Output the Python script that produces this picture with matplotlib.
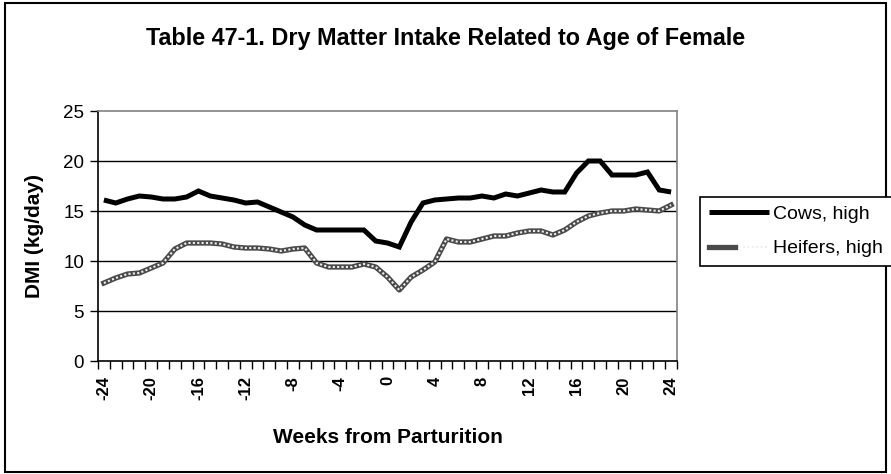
import matplotlib
matplotlib.use("Agg")
import matplotlib.pyplot as plt
from matplotlib.lines import Line2D
from matplotlib.legend_handler import HandlerTuple
from matplotlib.patches import Rectangle

plt.rcParams['font.family'] = ['Liberation Sans', 'DejaVu Sans']

weeks = list(range(-24, 25))
cows = [16.1, 15.8, 16.2, 16.5, 16.4, 16.2, 16.2, 16.4, 17.0, 16.5, 16.3, 16.1,
        15.8, 15.9, 15.4, 14.9, 14.4, 13.6, 13.1, 13.1, 13.1, 13.1, 13.1, 12.0,
        11.8, 11.4, 13.9, 15.8, 16.1, 16.2, 16.3, 16.3, 16.5, 16.3, 16.7, 16.5,
        16.8, 17.1, 16.9, 16.9, 18.8, 20.0, 20.0, 18.6, 18.6, 18.6, 18.9, 17.1, 16.9]
heifers = [7.8, 8.3, 8.7, 8.8, 9.3, 9.8, 11.2, 11.8, 11.8, 11.8, 11.7, 11.4,
           11.3, 11.3, 11.2, 11.0, 11.2, 11.3, 9.8, 9.4, 9.4, 9.4, 9.7, 9.4,
           8.4, 7.1, 8.4, 9.1, 9.9, 12.2, 11.9, 11.9, 12.2, 12.5, 12.5, 12.8,
           13.0, 13.0, 12.6, 13.1, 13.9, 14.5, 14.8, 15.0, 15.0, 15.2, 15.1, 15.0, 15.6]
xtick_labels = [-24, -20, -16, -12, -8, -4, 0, 4, 8, 12, 16, 20, 24]
ytick_vals = [0, 5, 10, 15, 20, 25]
series_names = ["Cows, high", "Heifers, high"]
title = "Table 47-1. Dry Matter Intake Related to Age of Female"

W, H = 891, 474
fig = plt.figure(figsize=(W / 100, H / 100), dpi=100)
ax = fig.add_axes([98 / W, 1 - 361 / H, (677 - 98) / W, (361 - 111) / H])

for y in ytick_vals[1:-1]:
    ax.axhline(y, color='black', lw=1.0, zorder=1)

c_line, = ax.plot(weeks, cows, color='black', lw=3.6, solid_capstyle='butt',
                  solid_joinstyle='miter', zorder=3)
h_base, = ax.plot(weeks, heifers, color='#4a4a4a', lw=3.8, zorder=3)
h_over, = ax.plot(weeks, heifers, color='#eeeeee', lw=1.5, dashes=(1.0, 1.1), zorder=4)

ax.set_xlim(-24.5, 24.5)
ax.set_ylim(0, 25)
ax.set_yticks(ytick_vals)
ax.set_yticklabels([str(v) for v in ytick_vals], fontsize=13.5)
ax.set_xticks(xtick_labels)
ax.set_xticklabels([str(v) for v in xtick_labels], rotation=90, fontsize=12,
                   fontweight='bold')
ax.set_xticks([w - 0.5 for w in weeks] + [24.5], minor=True)
ax.tick_params(axis='x', which='major', length=0, pad=11)
ax.tick_params(axis='x', which='minor', length=6, width=1, color='black', direction='out')
ax.tick_params(axis='y', length=6, width=1, direction='out', pad=4)

for s in ['top', 'right']:
    ax.spines[s].set_color('#808080')
    ax.spines[s].set_linewidth(1.2)
for s in ['left', 'bottom']:
    ax.spines[s].set_color('black')
    ax.spines[s].set_linewidth(1.2)

ax.set_xlabel("Weeks from Parturition", fontsize=15, fontweight='bold', labelpad=20)
ax.set_ylabel("DMI (kg/day)", fontsize=15, fontweight='bold', labelpad=14)

fig.text(446 / W, 1 - 38 / H, title, fontsize=16.8, fontweight='bold',
         ha='center', va='center')

leg = fig.legend([c_line, (h_base, h_over)], series_names,
                 handler_map={tuple: HandlerTuple(ndivide=None)},
                 loc='center left', bbox_to_anchor=(700 / W, 1 - 231.5 / H),
                 bbox_transform=fig.transFigure, borderaxespad=0,
                 fontsize=14, handlelength=3.1, handletextpad=0.2,
                 labelspacing=0.85, borderpad=0.45, fancybox=False,
                 edgecolor='black', framealpha=1)
leg.get_frame().set_linewidth(1.2)

fig.patches.append(Rectangle((5 / W, 2 / H), (886 - 5) / W, (471 - 2) / H,
                             transform=fig.transFigure, fill=False,
                             edgecolor='black', lw=1.5))

fig.savefig("out.png", dpi=100)
